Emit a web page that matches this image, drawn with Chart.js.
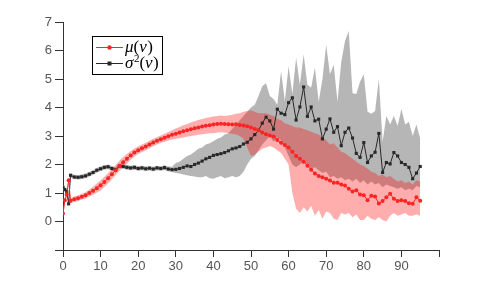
<!DOCTYPE html>
<html>
<head>
<meta charset="utf-8">
<script src="https://cdn.jsdelivr.net/npm/chart.js@4/dist/chart.umd.min.js"></script>
<style>
  html, body { margin: 0; padding: 0; background: #fff; }
  #wrap { width: 485px; height: 284px; }
</style>
</head>
<body>
<div id="wrap"><canvas id="chart" width="485" height="284"></canvas></div>
<script>
// x positions (dense start, then one per unit)
const xs = [0, 0.5, 1, 1.5, 2,
  3, 4, 5, 6, 7, 8, 9, 10, 11, 12,
  13, 14, 15, 16, 17, 18, 19, 20, 21, 22,
  23, 24, 25, 26, 27, 28, 29, 30, 31, 32,
  33, 34, 35, 36, 37, 38, 39, 40, 41, 42,
  43, 44, 45, 46, 47, 48, 49, 50, 51, 52,
  53, 54, 55, 56, 57, 58, 59, 60, 61, 62,
  63, 64, 65, 66, 67, 68, 69, 70, 71, 72,
  73, 74, 75, 76, 77, 78, 79, 80, 81, 82,
  83, 84, 85, 86, 87, 88, 89, 90, 91, 92,
  93, 94, 95];

// mu(v)
const muMean = [0.28, 0.75, 0.95, 1.45, 0.73,
  0.78, 0.82, 0.87, 0.92, 1.0, 1.08, 1.17, 1.27, 1.39, 1.52,
  1.66, 1.8, 1.95, 2.08, 2.2, 2.32, 2.42, 2.5, 2.57, 2.63,
  2.7, 2.77, 2.83, 2.89, 2.94, 2.99, 3.04, 3.08, 3.12, 3.17,
  3.2, 3.24, 3.27, 3.3, 3.33, 3.36, 3.38, 3.4, 3.42, 3.43,
  3.42, 3.41, 3.4, 3.41, 3.39, 3.37, 3.34, 3.3, 3.25, 3.2,
  3.12, 3.06, 3.02, 2.98, 2.86, 2.76, 2.68, 2.6, 2.45, 2.3,
  2.2, 2.1, 1.96, 1.82, 1.68, 1.6, 1.55, 1.5, 1.44, 1.36,
  1.36, 1.3, 1.26, 1.15, 1.05, 1.1, 0.95, 0.92, 0.75, 0.9,
  0.88, 0.63, 0.72, 0.85, 0.97, 0.8, 0.72, 0.75, 0.72, 0.64,
  0.62, 0.85, 0.73];
const muUpper = [0.33, 0.83, 1.03, 1.53, 0.81,
  0.88, 0.92, 0.97, 1.03, 1.12, 1.22, 1.33, 1.45, 1.57, 1.7,
  1.84, 1.98, 2.13, 2.26, 2.37, 2.47, 2.56, 2.63, 2.7, 2.76,
  2.83, 2.9, 2.96, 3.02, 3.08, 3.14, 3.2, 3.26, 3.32, 3.38,
  3.42, 3.47, 3.52, 3.56, 3.6, 3.63, 3.66, 3.68, 3.7, 3.72,
  3.7, 3.72, 3.75, 3.78, 3.8, 3.85, 3.88, 3.9, 3.85, 3.8,
  3.8, 3.8, 3.75, 3.7, 3.6, 3.55, 3.45, 3.4, 3.35, 3.3,
  3.3, 3.25, 3.2, 3.15, 3.1, 3.05, 2.95, 2.85, 2.7, 2.75,
  2.6, 2.45, 2.4, 2.3, 2.2, 2.1, 2.0, 1.95, 1.85, 1.75,
  1.7, 1.6, 1.65, 1.55, 1.6, 1.5, 1.4, 1.45, 1.35, 1.4,
  1.3, 1.45, 1.4];
const muLower = [0.23, 0.67, 0.87, 1.37, 0.65,
  0.68, 0.72, 0.77, 0.81, 0.88, 0.94, 1.01, 1.09, 1.21, 1.34,
  1.48, 1.62, 1.77, 1.9, 2.03, 2.17, 2.28, 2.37, 2.44, 2.5,
  2.57, 2.64, 2.7, 2.76, 2.8, 2.84, 2.88, 2.9, 2.92, 2.95,
  2.97, 3.0, 3.02, 3.04, 3.06, 3.08, 3.1, 3.1, 3.12, 3.13,
  3.12, 3.1, 3.08, 3.05, 3.0, 2.9, 2.6, 2.3, 2.35, 2.45,
  2.55, 2.6, 2.65, 2.6, 2.5, 2.4, 2.2, 2.0, 1.0, 0.45,
  0.3, 0.5, 0.35, 0.55, 0.2, 0.4, 0.1, 0.35, 0.3, 0.1,
  0.05, 0.3, 0.25, 0.3, 0.15, 0.25, 0.05, 0.05, 0.2, 0.1,
  0.05, 0.15, 0.05, 0.0, 0.2, 0.3, 0.2, 0.25, 0.3, 0.2,
  0.2, 0.25, 0.2];

// sigma^2(v)
const sigMean = [1.2, 1.12, 1.05, 0.62, 1.62,
  1.56, 1.55, 1.57, 1.6, 1.66, 1.72, 1.8, 1.85, 1.9, 1.92,
  1.86, 1.82, 1.95, 1.93, 1.9, 1.88, 1.9, 1.86, 1.88, 1.85,
  1.87, 1.84, 1.88, 1.86, 1.89, 1.84, 1.82, 1.83, 1.86, 1.9,
  1.95, 1.93, 2.0, 2.05, 2.12, 2.2, 2.25, 2.32, 2.35, 2.38,
  2.42, 2.48, 2.55, 2.58, 2.63, 2.72, 2.78, 2.9, 3.05, 3.2,
  3.45, 3.66, 3.53, 3.24, 3.94, 3.8, 3.75, 4.17, 4.34, 3.56,
  4.02, 4.72, 3.69, 4.02, 3.53, 3.59, 2.9, 3.24, 3.6, 3.13,
  3.33, 2.66, 3.13, 3.28, 2.93, 2.39, 2.25, 2.77, 2.07, 2.3,
  2.43, 3.09, 1.72, 2.07, 2.02, 2.42, 2.3, 2.07, 2.0, 1.9,
  1.5, 1.7, 1.93];
const sigUpper = [1.28, 1.2, 1.13, 0.75, 1.7,
  1.64, 1.63, 1.65, 1.68, 1.74, 1.8, 1.88, 1.93, 1.98, 2.0,
  1.95, 1.9, 2.03, 2.01, 1.98, 1.96, 1.98, 1.94, 1.96, 1.93,
  1.95, 1.92, 1.96, 1.94, 1.97, 1.93, 1.92, 2.05, 2.1, 2.2,
  2.3, 2.35, 2.45, 2.55, 2.6, 2.7, 2.75, 2.82, 2.9, 2.95,
  3.05, 3.1, 3.25, 3.4, 3.55, 3.7, 3.85, 4.0, 4.1, 4.4,
  4.75, 4.85, 4.4, 4.3, 4.1, 5.28, 4.23, 5.45, 4.47, 5.75,
  4.8, 5.87, 4.8, 4.7, 5.4, 4.2, 5.0, 6.2, 5.17, 5.5,
  4.2, 5.6, 6.33, 6.68, 4.5, 4.47, 4.9, 5.17, 3.85, 3.78,
  3.88, 5.0, 2.8, 3.7, 3.4, 3.7, 3.35, 3.95, 3.4, 3.5,
  3.0, 3.4, 2.9];
const sigLower = [1.12, 1.04, 0.97, 0.5, 1.54,
  1.48, 1.47, 1.49, 1.52, 1.58, 1.64, 1.72, 1.77, 1.82, 1.84,
  1.78, 1.74, 1.87, 1.85, 1.82, 1.8, 1.82, 1.78, 1.8, 1.77,
  1.79, 1.76, 1.8, 1.78, 1.81, 1.76, 1.74, 1.7, 1.68, 1.65,
  1.62, 1.6, 1.58, 1.55, 1.55, 1.6, 1.52, 1.5, 1.55, 1.6,
  1.52, 1.55, 1.6, 1.55, 1.6, 1.75, 2.0, 2.2, 2.3, 2.5,
  2.7, 2.85, 3.0, 2.8, 2.95, 2.85, 2.6, 2.3, 2.0, 1.9,
  2.0, 2.1, 2.0, 1.85, 1.9, 1.8, 1.7, 1.75, 1.55, 1.6,
  1.5, 1.55, 1.45, 1.5, 1.4, 1.5, 1.35, 1.45, 1.3, 1.4,
  1.3, 1.35, 1.2, 1.3, 1.25, 1.2, 1.15, 1.2, 1.1, 1.15,
  1.1, 1.25, 1.2];

const xMax = 100, xStep = 10;   // labels 0..90, last tick unlabeled
const yMin = -1, yMax = 7;      // labels 0..7

const RED = 'rgb(255,35,35)';
const BLACK = 'rgb(40,40,40)';
const AXIS = '#333';

function pts(ys) {
  return ys.map((y, i) => ({ x: xs[i], y: y }));
}

function band(ys, order, fill, color) {
  return {
    data: pts(ys), order: order, fill: fill,
    backgroundColor: color, borderWidth: 0, pointRadius: 0,
    tension: 0
  };
}

// legend drawn by hand so the math labels can be italic with a superscript
const mathLegend = {
  id: 'mathLegend',
  afterDraw(chart) {
    const ctx = chart.ctx;
    ctx.save();
    ctx.strokeStyle = '#000';
    ctx.lineWidth = 1;
    ctx.strokeRect(92.5, 36.5, 70, 38);
    const rows = [
      { y: 47, color: RED, marker: 'circle', sup: false, sym: '\u03bc' },
      { y: 63, color: BLACK, marker: 'rect', sup: true, sym: '\u03c3' }
    ];
    rows.forEach(r => {
      ctx.strokeStyle = r.color;
      ctx.fillStyle = r.color;
      ctx.beginPath();
      ctx.moveTo(96, r.y + 0.5);
      ctx.lineTo(123, r.y + 0.5);
      ctx.stroke();
      if (r.marker === 'circle') {
        ctx.beginPath();
        ctx.arc(109.5, r.y + 0.5, 2.2, 0, Math.PI * 2);
        ctx.fill();
      } else {
        ctx.fillRect(107.5, r.y - 1.5, 4, 4);
      }
      ctx.fillStyle = '#000';
      ctx.textBaseline = 'alphabetic';
      let x = 125;
      const base = r.y + 5;
      ctx.font = 'italic 17px "Liberation Serif"';
      ctx.fillText(r.sym, x, base);
      x += ctx.measureText(r.sym).width;
      if (r.sup) {
        ctx.font = '11px "Liberation Serif"';
        ctx.fillText('2', x + 0.5, base - 6);
        x += ctx.measureText('2').width + 0.5;
      }
      ctx.font = '17px "Liberation Serif"';
      ctx.fillText('(', x, base);
      x += ctx.measureText('(').width;
      ctx.font = 'italic 17px "Liberation Serif"';
      ctx.fillText('v', x, base);
      x += ctx.measureText('v').width + 0.5;
      ctx.font = '17px "Liberation Serif"';
      ctx.fillText(')', x, base);
    });
    ctx.restore();
  }
};

new Chart(document.getElementById('chart'), {
  type: 'line',
  data: {
    datasets: [
      band(sigUpper, 5, '+1', 'rgb(182,182,182)'),
      band(sigLower, 5, false, 'rgb(182,182,182)'),
      band(muUpper, 4, '+1', 'rgba(255,0,0,0.32)'),
      band(muLower, 4, false, 'rgba(255,0,0,0.32)'),
      {
        data: pts(sigMean), order: 2, fill: false,
        borderColor: BLACK, borderWidth: 1, tension: 0,
        pointStyle: 'rect', pointRadius: 2.2, pointBorderWidth: 0,
        pointBackgroundColor: BLACK
      },
      {
        data: pts(muMean), order: 1, fill: false,
        borderColor: RED, borderWidth: 1, tension: 0,
        pointStyle: 'circle', pointRadius: 2, pointBorderWidth: 0,
        pointBackgroundColor: RED
      }
    ]
  },
  options: {
    responsive: false,
    animation: false,
    events: [],
    layout: { padding: { top: 22, right: 46, bottom: 0, left: 0 } },
    plugins: { legend: { display: false }, tooltip: { enabled: false } },
    scales: {
      x: {
        type: 'linear', min: 0, max: xMax,
        afterFit: s => { s.height = 34; },
        border: { display: true, color: AXIS, width: 1 },
        grid: { display: true, drawOnChartArea: false, drawTicks: true, tickLength: 7, color: AXIS },
        ticks: {
          stepSize: xStep, padding: 2, color: '#555',
          font: { size: 13 },
          callback: v => (v === xMax ? '' : v)
        }
      },
      y: {
        type: 'linear', min: yMin, max: yMax,
        afterFit: s => { s.width = 63; },
        border: { display: true, color: AXIS, width: 1 },
        grid: { display: true, drawOnChartArea: false, drawTicks: true, tickLength: 8, color: AXIS },
        ticks: {
          stepSize: 1, padding: 3, color: '#555',
          font: { size: 13 },
          callback: v => (v === yMin ? '' : v)
        }
      }
    }
  },
  plugins: [mathLegend]
});
</script>
</body>
</html>
